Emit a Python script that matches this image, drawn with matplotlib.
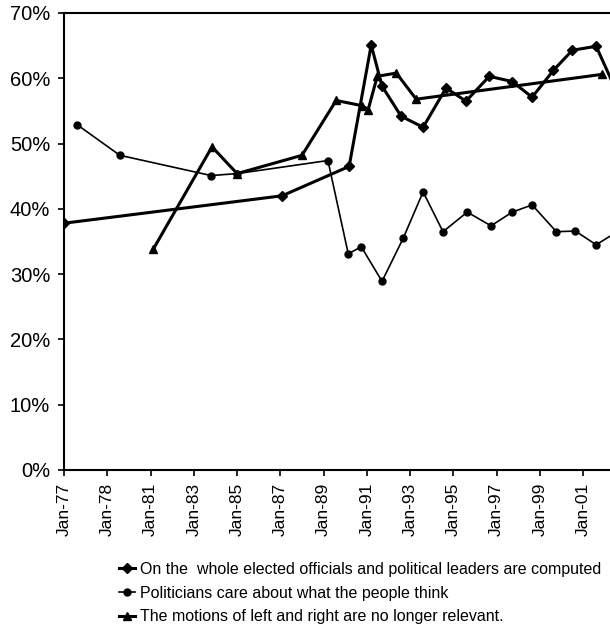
import matplotlib
matplotlib.use("Agg")
import matplotlib.pyplot as plt

plt.rcParams['font.family'] = ['Liberation Sans', 'DejaVu Sans']

# x axis is a category-like axis: tick i -> label i, points sit between ticks
tick_labels = ["Jan-77", "Jan-78", "Jan-81", "Jan-83", "Jan-85", "Jan-87", "Jan-89",
               "Jan-91", "Jan-93", "Jan-95", "Jan-97", "Jan-99", "Jan-01"]

# series 1: elected officials ... (diamond, thick)
x_corrupt = [0.0, 5.04, 6.59, 7.10, 7.35, 7.79, 8.30, 8.83, 9.29, 9.83, 10.36,
             10.82, 11.31, 11.75, 12.30, 12.75]
y_corrupt = [37.8, 42.0, 46.5, 65.1, 58.8, 54.2, 52.5, 58.5, 56.5, 60.3, 59.5,
             57.1, 61.2, 64.3, 64.9, 58.3]

# series 2: politicians care (circle, thin)
x_care = [0.30, 1.29, 3.40, 4.00, 6.10, 6.57, 6.87, 7.35, 7.84, 8.30, 8.76, 9.32,
          9.87, 10.36, 10.82, 11.38, 11.82, 12.30, 12.86]
y_care = [52.9, 48.2, 45.1, 45.4, 47.4, 33.1, 34.2, 28.9, 35.5, 42.6, 36.5, 39.5,
          37.4, 39.5, 40.6, 36.5, 36.6, 34.5, 36.8]

# series 3: left and right (triangle, thick)
x_lr = [2.06, 3.42, 4.00, 5.50, 6.29, 6.89, 7.03, 7.24, 7.68, 8.14, 12.44]
y_lr = [33.8, 49.5, 45.4, 48.2, 56.6, 55.8, 55.2, 60.3, 60.8, 56.8, 60.6]

labels = ["On the  whole elected officials and political leaders are computed",
          "Politicians care about what the people think",
          "The motions of left and right are no longer relevant."]

fig = plt.figure(figsize=(6.10, 6.34), dpi=100)
ax = fig.add_axes([0.105, 0.2587, 0.895, 0.7208])

l1, = ax.plot(x_corrupt, y_corrupt, color='black', lw=2.2, marker='D', ms=5)
l2, = ax.plot(x_care, y_care, color='black', lw=1.2, marker='o', ms=5)
l3, = ax.plot(x_lr, y_lr, color='black', lw=2.2, marker='^', ms=6)

ax.set_xlim(0, 12.62)
ax.set_ylim(0, 70)
ax.set_xticks(range(len(tick_labels)))
ax.set_xticklabels(tick_labels, rotation=90, fontsize=12.5)
ax.set_yticks(range(0, 71, 10))
ax.set_yticklabels([f"{v}%" for v in range(0, 71, 10)], fontsize=14.5)
ax.tick_params(axis='both', direction='out', length=4, width=1.2)
ax.tick_params(axis='x', pad=5)
ax.tick_params(axis='y', pad=6)
ax.spines['right'].set_visible(False)
for s in ['left', 'bottom', 'top']:
    ax.spines[s].set_linewidth(1.5)

fig.legend([l1, l2, l3], labels, loc='upper left', bbox_to_anchor=(0.185, 0.124),
           frameon=False, fontsize=11.5, handlelength=1.0, labelspacing=0.55,
           borderaxespad=0, handletextpad=0.3)

fig.savefig("out.png", dpi=100)
